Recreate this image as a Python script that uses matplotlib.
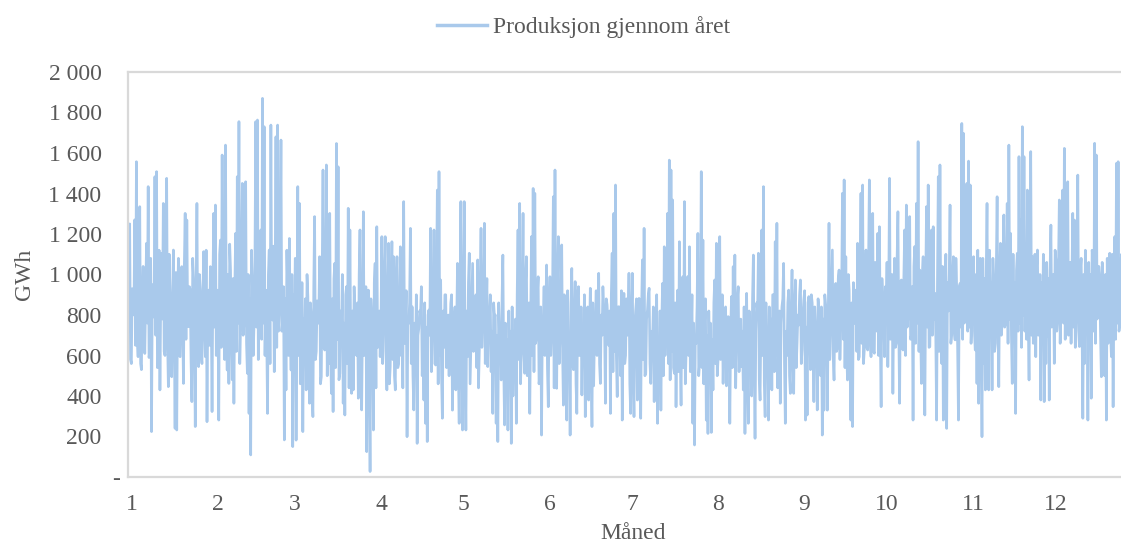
import numpy as np
import matplotlib
matplotlib.use("Agg")
import matplotlib.pyplot as plt
from matplotlib.transforms import ScaledTranslation

# ---- data (GWh, in time order through the year) ----
# ext*: visible spike / trough values; core*: the dense-band value that follows each of them.
ext1 = [900,1250,560,840,1270,1557,594,1335,530,1040,
        610,1154,1434,620,224,790,1483,1508,560,430,
        1105,1351,600,1475,446,907,495,1121,240,232,
        1080,594,1039,462,1302,1269,742,923,372,981,
        249,1351,545,923,560,1113,594,273,923,1039,
        323,1302,1343,923,281,1170,1590,858,1639,528,
        462,1022,480,364,1203,1483,1755,759,1450,759,
        1458,512,314,109,923,759,1755,1763,825,1220,
        1870,1730,923,314,1121,1738,775,520,1680,1738,
        825,1664,775,183,430,910,1178,528,150,780]
core1 = [720,580,930,800,650,700,1060,560,900,760,
         880,760,590,1080,950,860,700,540,1120,900,
         780,620,960,690,1100,560,880,740,1010,870,
         600,920,760,1050,680,800,940,570,1080,700,
         900,700,1000,610,880,760,1120,860,650,820,
         960,740,600,800,1100,640,700,580,760,1000,
         1150,680,980,900,620,760,560,1040,700,1200,
         660,1000,880,1120,600,1060,740,580,1100,680,
         760,600,700,1000,560,820,1140,960,640,720,
         1050,720,940,880,1120,600,760,1000,900,1080]

ext2 = [182,1434,1351,512,224,709,430,891,364,792,
        298,1286,620,759,1088,495,1516,627,1541,841,
        1302,413,323,1055,1647,1532,512,726,364,306,
        940,1327,1220,413,430,775,600,389,1220,331,
        1310,677,125,923,27,780,232,1055,1236,700,
        594,1187,760,1187,430,1154,545,1162,1088,430,
        1088,560,1137,900,1360,710,199,759,1228,841,
        331,561,166,734,808,500,380,265,175,825,
        1228,740,1220,553,1417,1508,973,290,640,900,
        643,500,858,330,775,430,1055,265,1360,232]
core2 = [820,600,460,960,780,880,1000,540,860,420,
         940,580,870,800,460,1000,640,900,500,560,
         620,880,980,540,680,480,820,1000,760,900,
         560,440,620,820,940,780,860,1000,520,760,
         600,940,760,520,880,800,960,440,640,820,
         780,560,1000,620,840,460,920,580,500,960,
         540,800,600,440,660,920,780,860,560,500,
         760,900,700,820,940,680,860,740,800,700,
         520,780,560,940,460,600,500,820,900,540,
         800,720,900,680,840,760,520,880,600,780]

ext3 = [1360,232,594,1105,660,1055,644,900,1072,627,
        1228,775,1253,792,545,792,520,314,792,265,
        175,693,479,1096,257,430,232,578,166,400,
        545,265,1220,1351,611,1302,512,1088,700,314,
        1187,1425,1401,693,989,500,207,759,600,1047,
        347,989,700,1384,1516,438,1187,690,1146,355,
        792,281,600,207,1030,530,965,314,940,600,
        405,650,298,759,380,932,249,450,759,600,
        1006,462,700,825,364,850,650,314,1105,1302,
        1442,397,841,500,281,907,600,700,1006,314]
core3 = [580,820,960,460,880,620,840,540,440,920,
         640,860,560,980,780,900,720,860,800,700,
         860,740,880,540,760,680,820,720,840,660,
         780,900,580,460,820,620,960,500,860,740,
         600,520,660,900,460,840,760,940,800,540,
         820,600,860,440,640,960,560,800,620,900,
         780,920,700,860,560,800,460,900,600,840,
         720,900,760,840,680,540,860,700,920,780,
         560,800,940,720,880,760,820,900,520,620,
         600,840,760,920,700,560,880,780,460,820]

ext4 = [1006,298,825,380,882,290,1072,1228,512,825,
        932,462,660,372,685,265,561,330,956,1137,
        760,1302,1565,1516,1368,512,347,923,1162,355,
        989,1360,611,990,1137,660,265,158,660,1203,
        561,1508,1170,760,281,215,528,220,430,973,
        1154,577,1187,630,462,800,450,792,265,891,
        1039,1096,726,940,660,545,430,215,907,265,
        630,400,1096,191,860,1105,380,1220,1434,298,
        644,281,578,430,900,1162,1253,792,364,841,
        1055,265,600,923,413,1022,413,973,660,750]
core4 = [520,760,880,700,440,820,580,500,780,900,
         560,720,840,780,900,680,820,760,500,600,
         800,560,480,620,540,860,740,520,600,880,
         540,460,820,600,520,900,760,700,840,500,
         760,540,460,880,700,820,760,680,860,560,
         500,800,580,900,720,840,680,780,720,540,
         600,440,880,520,780,720,840,700,500,820,
         760,880,540,720,820,480,760,600,460,860,
         700,840,780,900,520,600,440,820,760,880,
         560,720,860,500,800,620,840,540,800,900]

ext5 = [973,627,874,281,306,891,530,860,372,730,
        331,816,500,207,330,850,330,1253,759,1121,
        479,956,640,1022,759,1401,1467,1088,479,923,
        281,249,759,923,1154,594,1401,1442,627,1121,
        627,1467,594,1302,611,923,1203,1236,347,860,
        594,825,545,1475,759,413,1080,660,1310,364,
        973,627,1220,1343,792,1286,700,281,1138,1351,
        1656,1022,462,1088,306,1335,1442,644,1220,1236,
        907,281,1483,1541,561,281,800,240,820,1343,
        710,1088,677,923,281,956,1746,1697,775,1450]
core5 = [560,800,920,740,860,780,900,700,840,760,
         880,720,840,780,900,820,740,580,960,600,
         840,620,980,580,900,680,540,620,1000,560,
         860,960,820,620,580,1020,660,560,940,640,
         1040,680,920,620,1060,720,600,700,980,880,
         940,1060,900,680,1000,860,640,1080,720,960,
         700,980,600,740,1100,680,940,1040,660,760,
         620,720,1000,680,940,740,640,1100,700,780,
         700,960,620,760,1040,900,1100,960,1000,660,
         980,720,1080,640,940,740,680,760,1040,720]

ext6 = [1560,1442,775,1088,627,462,364,1080,199,560,
        430,1351,430,874,430,956,660,1384,446,1154,
        759,1294,759,1351,1639,1203,462,700,314,1105,
        1582,1270,1730,1582,1150,1417,479,1607,1088,759,
        594,1121,759,380,693,372,560,693,380,1244,
        775,561,1072,775,1368,874,1417,1623,1220,1458,
        900,660,1302,1269,792,1491,644,1080,290,560,
        718,281,800,389,1088,1648,1590,923,989,495,
        989,500,281,660,1105,594,347,1187,1549,1557,
        759]
core6 = [740,660,1060,720,1000,1120,960,680,1080,980,
         1000,700,1120,960,1080,620,1040,760,980,700,
         1060,740,1000,660,780,700,1100,960,1020,720,
         760,640,800,720,680,780,1060,700,660,1100,
         1040,700,1000,960,1100,940,1060,980,1020,740,
         1000,1120,720,1040,660,1100,760,680,800,700,
         1060,980,740,640,1100,720,1020,760,1000,1120,
         980,1060,1000,1120,720,660,780,1040,700,1060,
         760,1000,1080,960,700,1100,1000,680,760,720,
         1040]

ext7 = [1100,600,1300,700,1200,500,900,1100,700,1000]
core7 = [700,1000,760,960,680,1040,720,800,1000,740]

month_labels = ["1","2","3","4","5","6","7","8","9","10","11","12"]
month_days = [31,28,31,30,31,30,31,31,30,31,30,31]
y_ticks = [0,200,400,600,800,1000,1200,1400,1600,1800,2000]
y_labels = ["-","200","400","600","800","1 000","1 200","1 400","1 600","1 800","2 000"]
series_name = "Produksjon gjennom året"

parts = [(ext1, core1), (ext2, core2), (ext3, core3), (ext4, core4),
         (ext5, core5), (ext6, core6), (ext7, core7)]
seq = []
for e, c in parts:
    assert len(e) == len(c)
    seq.append(np.column_stack([e, c]).ravel())
values = np.concatenate(seq).astype(float)

hours_in_year = 24 * sum(month_days)
hours = np.linspace(0, hours_in_year - 1, len(values))
month_start_hours = 24 * np.concatenate([[0], np.cumsum(month_days)[:-1]])

# ---- style ----
plt.rcParams['font.family'] = ['Liberation Serif', 'DejaVu Serif']
text_color = '#595959'
line_color = '#A9C9EB'
fs = 17

W, H = 1121, 551
fig = plt.figure(figsize=(W/100, H/100), dpi=100)
ax = fig.add_axes([128/W, 74/H, 1009.6/W, 405/H])

ax.plot(hours, values, color=line_color, lw=1.9, label=series_name,
        solid_joinstyle='round')

ax.set_xlim(0, hours_in_year)
ax.set_ylim(0, 2000)
ax.set_yticks(y_ticks)
ax.set_yticklabels(y_labels)
ax.set_xticks(month_start_hours)
ax.set_xticklabels(month_labels)
ax.tick_params(length=0, labelsize=fs, colors=text_color)
ax.tick_params(axis='y', pad=19)
ax.tick_params(axis='x', pad=12)

for s in ax.spines.values():
    s.set_color('#D9D9D9')
    s.set_linewidth(1.6)

ax.set_xlabel('Måned', fontsize=fs, color=text_color, labelpad=6)
ax.set_ylabel('GWh', fontsize=fs, color=text_color, labelpad=10)

for lab in ax.get_xticklabels():
    lab.set_transform(lab.get_transform() + ScaledTranslation(4/100, 0, fig.dpi_scale_trans))
ylabs = ax.get_yticklabels()
ylabs[0].set_transform(ylabs[0].get_transform() + ScaledTranslation(18/100, 0, fig.dpi_scale_trans))

leg = fig.legend(loc='upper center', bbox_to_anchor=(583.5/W, 1.0), frameon=False,
                 fontsize=fs, handlelength=2.1, handletextpad=0.25,
                 labelcolor=text_color, borderaxespad=0.3)
for h in leg.legend_handles:
    h.set_linewidth(2.5)

fig.savefig('out.png', dpi=100)
